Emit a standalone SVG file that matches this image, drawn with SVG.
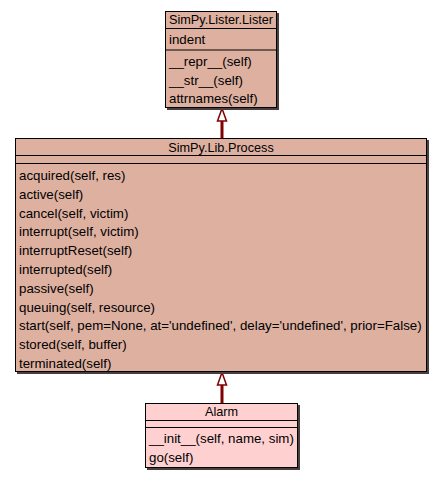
<svg xmlns="http://www.w3.org/2000/svg" width="443" height="480" viewBox="0 0 443 480">
<style>
.box{stroke:#000;stroke-width:1}
.shadow{fill:#4a3f3f}
.sep{stroke:#000;stroke-width:1.2}
text{font-family:"Liberation Sans",Arial,sans-serif;font-size:13.3px;fill:#000}
.t{text-anchor:middle;font-size:12.7px}
.edge{stroke:#800000;stroke-width:3;fill:none}
.head{fill:#fff;stroke:#800000;stroke-width:1.5}
</style>
<rect width="443" height="480" fill="#fff"/>
<g id="connectors">
<line class="edge" x1="222" y1="121" x2="222" y2="138"/>
<polygon class="head" points="222,108.5 217.5,121 226.5,121"/>
<line class="edge" x1="222" y1="385" x2="222" y2="403"/>
<polygon class="head" points="222,372.5 217.5,385 226.5,385"/>
</g>
<g id="lister">
<rect class="shadow" x="167" y="13" width="112" height="97"/>
<rect class="box" x="165.5" y="11.5" width="111" height="96" fill="#deb0a0"/>
<line class="sep" x1="165.5" y1="28.5" x2="276.5" y2="28.5"/>
<line class="sep" x1="165.5" y1="50" x2="276.5" y2="50"/>
<text class="t" x="221" y="24">SimPy.Lister.Lister</text>
<text x="169" y="44">indent</text>
<text x="169" y="66">__repr__(self)</text>
<text x="169" y="84.5">__str__(self)</text>
<text x="169" y="103">attrnames(self)</text>
</g>
<g id="process">
<rect class="shadow" x="17" y="140" width="412" height="234"/>
<rect class="box" x="15.5" y="138.5" width="411" height="233" fill="#deb0a0"/>
<line class="sep" x1="15.5" y1="155.5" x2="426.5" y2="155.5"/>
<line class="sep" x1="15.5" y1="163.5" x2="426.5" y2="163.5"/>
<text class="t" x="221" y="152">SimPy.Lib.Process</text>
<text x="19" y="180">acquired(self, res)</text>
<text x="19" y="198.8">active(self)</text>
<text x="19" y="217.6">cancel(self, victim)</text>
<text x="19" y="236.4">interrupt(self, victim)</text>
<text x="19" y="255.2">interruptReset(self)</text>
<text x="19" y="274">interrupted(self)</text>
<text x="19" y="292.8">passive(self)</text>
<text x="19" y="311.6">queuing(self, resource)</text>
<text x="19" y="330.4">start(self, pem=None, at='undefined', delay='undefined', prior=False)</text>
<text x="19" y="349.2">stored(self, buffer)</text>
<text x="19" y="368">terminated(self)</text>
</g>
<g id="alarm">
<rect class="shadow" x="147" y="405" width="153" height="65"/>
<rect class="box" x="145.5" y="403.5" width="152" height="64" fill="#ffd0d0"/>
<line class="sep" x1="145.5" y1="420.5" x2="297.5" y2="420.5"/>
<line class="sep" x1="145.5" y1="427.5" x2="297.5" y2="427.5"/>
<text class="t" x="221.5" y="416">Alarm</text>
<text x="149" y="443">__init__(self, name, sim)</text>
<text x="149" y="462">go(self)</text>
</g>
</svg>
